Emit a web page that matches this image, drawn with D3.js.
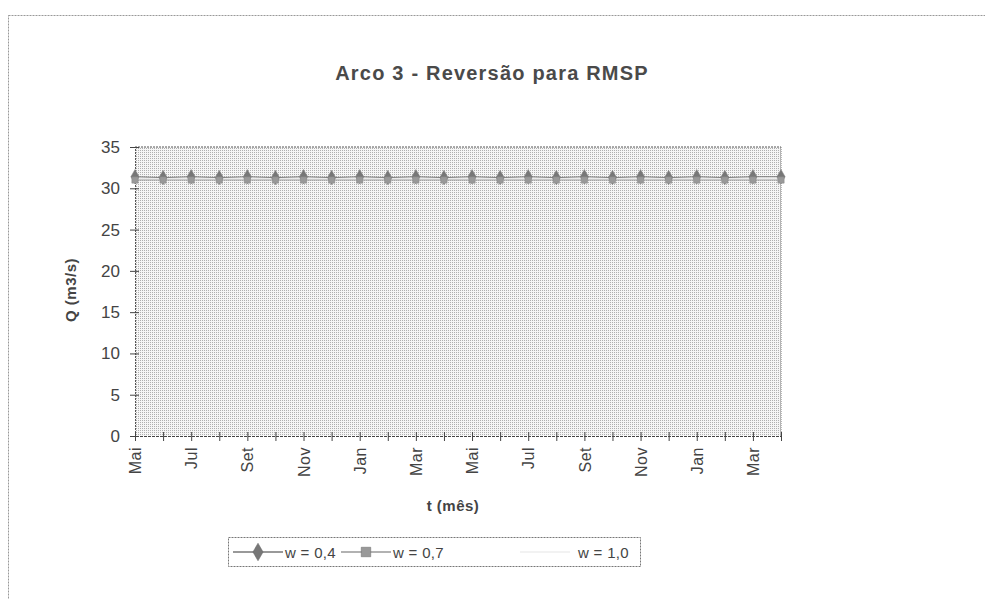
<!DOCTYPE html>
<html><head><meta charset="utf-8">
<script src="https://cdn.jsdelivr.net/npm/d3@7"></script>
<style>html,body{margin:0;padding:0;background:#fff;}svg{display:block;font-family:Arial,"Liberation Sans",sans-serif;}</style>
</head><body>
<svg id="c" width="985" height="599"></svg>
<script>
const months = ["Mai","Jun","Jul","Ago","Set","Out","Nov","Dez","Jan","Fev","Mar","Abr",
                "Mai","Jun","Jul","Ago","Set","Out","Nov","Dez","Jan","Fev","Mar","Abr"];
const yTicks = [0,5,10,15,20,25,30,35];
const seriesNames = ["w = 0,4","w = 0,7","w = 1,0"];
const w04 = [31.4,31.3,31.4,31.3,31.4,31.3,31.4,31.3,31.4,31.3,31.4,31.3,31.4,31.3,31.4,31.3,31.4,31.3,31.4,31.3,31.4,31.3,31.4,31.4];
const w07 = [31.0,31.0,31.0,31.0,31.0,31.0,31.0,31.0,31.0,31.0,31.0,31.0,31.0,31.0,31.0,31.0,31.0,31.0,31.0,31.0,31.0,31.0,31.0,31.0];
const w10 = [31.2,31.2,31.2,31.2,31.2,31.2,31.2,31.2,31.2,31.2,31.2,31.2,31.2,31.2,31.2,31.2,31.2,31.2,31.2,31.2,31.2,31.2,31.2,31.2];

const FONT = "Arial,'Liberation Sans',sans-serif";
const svg = d3.select("#c");
const defs = svg.append("defs");
const pat = defs.append("pattern").attr("id","dots").attr("width",2).attr("height",2).attr("patternUnits","userSpaceOnUse");
pat.append("rect").attr("width",2).attr("height",2).attr("fill","#f6f6f6");
pat.append("rect").attr("x",0).attr("y",0).attr("width",1).attr("height",1).attr("fill","#b0b0b0");

// outer chart border
svg.append("rect").attr("x",8.5).attr("y",15.5).attr("width",990).attr("height",620)
  .attr("fill","none").attr("stroke","#999").attr("stroke-width",1).attr("stroke-dasharray","2,1");

const L=135, R=781, T=147, B=436;
const x = d3.scalePoint().domain(d3.range(months.length)).range([L,R]);
const y = d3.scaleLinear().domain([0,35]).range([B,T]);

// plot background
svg.append("rect").attr("x",L).attr("y",T).attr("width",R-L).attr("height",B-T).attr("fill","url(#dots)");
svg.append("line").attr("x1",L).attr("x2",R).attr("y1",T).attr("y2",T).attr("stroke","#555").attr("stroke-dasharray","2,1");
svg.append("line").attr("x1",R).attr("x2",R).attr("y1",T).attr("y2",B).attr("stroke","#777").attr("stroke-dasharray","1,1");

// title
svg.append("text").attr("x",492).attr("y",80).attr("text-anchor","middle")
  .attr("font-size",20).attr("font-weight","bold").attr("letter-spacing",1.2).attr("fill","#4a4a4a")
  .text("Arco 3 - Reversão para RMSP");

// y axis
const ya = svg.append("g").attr("transform",`translate(${L},0)`)
  .call(d3.axisLeft(y).tickValues(yTicks).tickSize(5).tickPadding(10));
ya.select(".domain").attr("stroke","#555").attr("stroke-dasharray","2,1");
ya.selectAll(".tick line").attr("x1",-5).attr("x2",4).attr("stroke","#444");
ya.selectAll(".tick text").attr("font-size",17).attr("fill","#444").attr("font-family",FONT);

// x axis
const xa = svg.append("g").attr("transform",`translate(0,${B})`)
  .call(d3.axisBottom(x).tickSize(4).tickFormat(i => i % 2 === 0 ? months[i] : ""));
xa.select(".domain").attr("stroke","#444").attr("stroke-dasharray","3,1");
xa.selectAll(".tick line").attr("y1",-4).attr("y2",5).attr("stroke","#444");
xa.selectAll(".tick text").attr("font-size",16).attr("fill","#444").attr("font-family",FONT)
  .attr("letter-spacing",0.5)
  .attr("transform","rotate(-90)").attr("text-anchor","end").attr("dy","0.35em")
  .attr("x",-11).attr("y",0);

// axis titles
svg.append("text").attr("transform","translate(76,290) rotate(-90)").attr("text-anchor","middle")
  .attr("font-size",15).attr("font-weight","bold").attr("fill","#444").attr("letter-spacing",0.5).text("Q (m3/s)");
svg.append("text").attr("x",453).attr("y",511).attr("text-anchor","middle")
  .attr("font-size",15).attr("font-weight","bold").attr("fill","#444").attr("letter-spacing",0.5).text("t (mês)");

// series
const line = d3.line().x((d,i)=>x(i)).y(d=>y(d));
const data = [
  {name:seriesNames[0], vals:w04, color:"#777", marker:"diamond"},
  {name:seriesNames[1], vals:w07, color:"#999", marker:"square"},
  {name:seriesNames[2], vals:w10, color:"#eeeeee", marker:null}
];
data.slice().reverse().forEach(s=>{
  svg.append("path").attr("d",line(s.vals)).attr("fill","none").attr("stroke",s.color).attr("stroke-width",1);
});
data.forEach(s=>{
  if(!s.marker) return;
  const sym = d3.symbol().type(s.marker==="diamond"?d3.symbolDiamond:d3.symbolSquare).size(s.marker==="diamond"?60:40);
  svg.append("g").selectAll("path").data(s.vals).join("path")
    .attr("transform",(d,i)=>`translate(${x(i)},${y(d)})`)
    .attr("d",sym).attr("fill",s.color).attr("stroke","#888").attr("stroke-width",0.5);
});

// legend
const lg = svg.append("g");
lg.append("rect").attr("x",228.5).attr("y",537.5).attr("width",412).attr("height",29)
  .attr("fill","#fff").attr("stroke","#777").attr("stroke-dasharray","2,1");
const items = [
  {x0:233, tx:285, s:data[0]},
  {x0:341, tx:393, s:data[1]},
  {x0:520, tx:578, s:data[2]}
];
items.forEach(it=>{
  const cy = 552;
  lg.append("line").attr("x1",it.x0).attr("x2",it.x0+50).attr("y1",cy).attr("y2",cy)
    .attr("stroke",it.s.color).attr("stroke-width",1.5);
  if(it.s.marker){
    const sym = d3.symbol().type(it.s.marker==="diamond"?d3.symbolDiamond:d3.symbolSquare).size(90);
    lg.append("path").attr("transform",`translate(${it.x0+25},${cy})`).attr("d",sym)
      .attr("fill",it.s.color).attr("stroke","#666").attr("stroke-width",0.5);
  }
  lg.append("text").attr("x",it.tx).attr("y",cy+5.5).attr("font-size",15).attr("fill","#444")
    .attr("letter-spacing",0.3).text(it.s.name);
});
</script>
</body></html>
